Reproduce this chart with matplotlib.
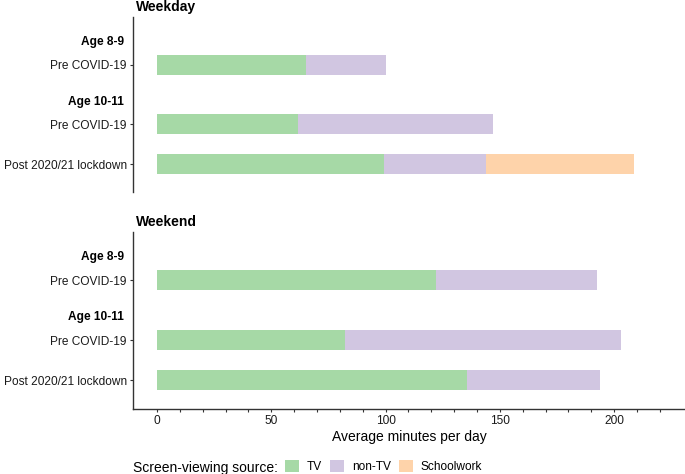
import matplotlib
matplotlib.use("Agg")
import matplotlib.pyplot as plt

plt.rcParams['font.family'] = ['Liberation Sans', 'DejaVu Sans']

# data (average minutes per day)
panels = ["Weekday", "Weekend"]
row_labels = ["Pre COVID-19", "Pre COVID-19", "Post 2020/21 lockdown"]
age_labels = ["Age 8-9", "Age 10-11"]
sources = ["TV", "non-TV", "Schoolwork"]
colours = ["#a6d9a6", "#d1c6e1", "#fed3aa"]

weekday_tv = [65.1, 61.7, 99.3]
weekday_nontv = [35.3, 85.3, 44.7]
weekday_school = [0, 0, 64.6]

weekend_tv = [122.0, 82.1, 135.5]
weekend_nontv = [70.3, 120.8, 58.4]
weekend_school = [0, 0, 0]

values = {
    "Weekday": [weekday_tv, weekday_nontv, weekday_school],
    "Weekend": [weekend_tv, weekend_nontv, weekend_school],
}

ypos = [0, 1.5, 2.5]
age_ypos = [-0.575, 0.925]

W, H = 685, 474
fig = plt.figure(figsize=(W / 100, H / 100), dpi=100)
boxes = [(133, 17, 685, 192), (133, 232, 685, 408.5)]
fs = 8.6
axcol = "#333333"

for k, panel in enumerate(panels):
    x0, y0, x1, y1 = boxes[k]
    ax = fig.add_axes([x0 / W, 1 - y1 / H, (x1 - x0) / W, (y1 - y0) / H])
    left = [0, 0, 0]
    for src, col, vals in zip(sources, colours, values[panel]):
        ax.barh(ypos, vals, left=left, height=0.5, color=col, linewidth=0, label=src)
        left = [a + b for a, b in zip(left, vals)]
    ax.set_xlim(-10.5, 231)
    ax.set_ylim(3.2, -1.2)
    ax.set_yticks(ypos)
    ax.set_yticklabels(row_labels, fontsize=fs, color="#1a1a1a")
    for lab, yy in zip(age_labels, age_ypos):
        ax.annotate(lab, xy=(0, yy), xycoords=ax.get_yaxis_transform(),
                    xytext=(-6.5, 0), textcoords="offset points",
                    ha="right", va="center", fontsize=fs, fontweight="bold")
    ax.text(0.005, 1.015, panel, transform=ax.transAxes, ha="left", va="bottom",
            fontsize=10, fontweight="bold")
    for s in ["top", "right"]:
        ax.spines[s].set_visible(False)
    ax.spines["left"].set_color(axcol)
    ax.spines["left"].set_linewidth(1.0)
    ax.tick_params(axis="y", length=2.5, width=0.8, color=axcol, pad=2)
    if k == 0:
        ax.spines["bottom"].set_visible(False)
        ax.set_xticks([])
    else:
        ax.spines["bottom"].set_color(axcol)
        ax.spines["bottom"].set_linewidth(1.0)
        ticks = list(range(0, 230, 10))
        ax.set_xticks(ticks)
        ax.set_xticklabels([str(t) if t % 50 == 0 else "" for t in ticks], fontsize=fs, color="#1a1a1a")
        ax.tick_params(axis="x", length=2.5, width=0.8, color=axcol, pad=2)
        ax.set_xlabel("Average minutes per day", fontsize=10, labelpad=2)
        handles, labels = ax.get_legend_handles_labels()

fig.text(133 / W, 1 - 466.5 / H, "Screen-viewing source:", fontsize=10,
         ha="left", va="center_baseline")
fig.legend(handles, labels, loc="center left", bbox_to_anchor=(285 / W, 1 - 466.5 / H),
           ncol=3, frameon=False, fontsize=fs, borderpad=0, borderaxespad=0,
           handlelength=1.17, handleheight=1.17, handletextpad=0.67, columnspacing=0.67)

fig.savefig("out.png", dpi=100)
